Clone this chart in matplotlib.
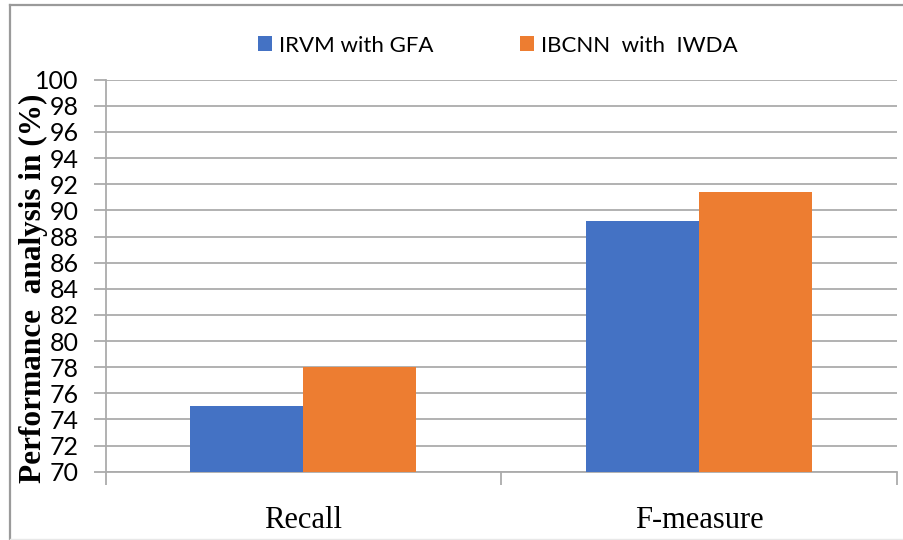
import numpy as np
import matplotlib.pyplot as plt
from matplotlib.lines import Line2D

categories = ["Recall", "F-measure"]
series_names = ["IRVM with GFA", "IBCNN  with  IWDA"]
irvm_gfa = [75.0, 89.15]
ibcnn_iwda = [78.0, 91.4]
colors = ["#4472C4", "#ED7D31"]
grid_gray = "#ababab"

fig = plt.figure(figsize=(9.04, 5.4), dpi=100)
ax = fig.add_axes([105.7 / 904, 1 - 471.7 / 540, 791 / 904, 392 / 540])

x = np.arange(len(categories))
w = 1 / 3.5
ax.bar(x - w / 2, irvm_gfa, w, color=colors[0], label=series_names[0], zorder=3)
ax.bar(x + w / 2, ibcnn_iwda, w, color=colors[1], label=series_names[1], zorder=3)

ax.set_xlim(-0.5, 1.5)
ax.set_ylim(70, 100)
ax.set_yticks(np.arange(70, 101, 2))
ax.yaxis.grid(True, color=grid_gray, lw=1.3, zorder=0)
ax.set_axisbelow(True)

for s in ["top", "right"]:
    ax.spines[s].set_visible(False)
ax.spines["left"].set_color(grid_gray)
ax.spines["bottom"].set_color(grid_gray)
ax.spines["left"].set_linewidth(1.3)
ax.spines["bottom"].set_linewidth(1.3)

ax.tick_params(axis="y", length=8.5, width=1.3, color=grid_gray, pad=11,
               labelsize=18, labelcolor="black")
for lab in ax.get_yticklabels():
    lab.set_fontfamily("Lato")

# category labels, with boundary ticks between groups
ax.set_xticks(x)
ax.set_xticklabels(categories, fontfamily="Liberation Serif", fontsize=22)
ax.tick_params(axis="x", which="major", length=0, pad=25)
ax.set_xticks([-0.5, 0.5, 1.5], minor=True)
ax.tick_params(axis="x", which="minor", length=9.5, width=1.3, color=grid_gray)

ax.set_ylabel("Performance  analysis in (%)", fontfamily="Liberation Serif",
              fontweight="bold", fontsize=22.5)
ax.yaxis.set_label_coords(-0.073, 0.468)

fig.legend(loc="center", bbox_to_anchor=(498 / 904, 1 - 45.5 / 540), ncol=2,
           frameon=False, handlelength=0.63, handleheight=0.63, handletextpad=0.3,
           columnspacing=3.9, prop={"family": "Lato", "size": 16})

# outer chart frame
fig.add_artist(Line2D([9.5 / 904, 9.5 / 904], [0, 1 - 5 / 540], color="#9a9a9a", lw=1.6))
fig.add_artist(Line2D([9.5 / 904, 1], [1 - 5 / 540, 1 - 5 / 540], color="#9a9a9a", lw=1.6))
fig.add_artist(Line2D([9.5 / 904, 1], [1.5 / 540, 1.5 / 540], color="#e8e8e8", lw=1))

fig.savefig("out.png", dpi=100)
